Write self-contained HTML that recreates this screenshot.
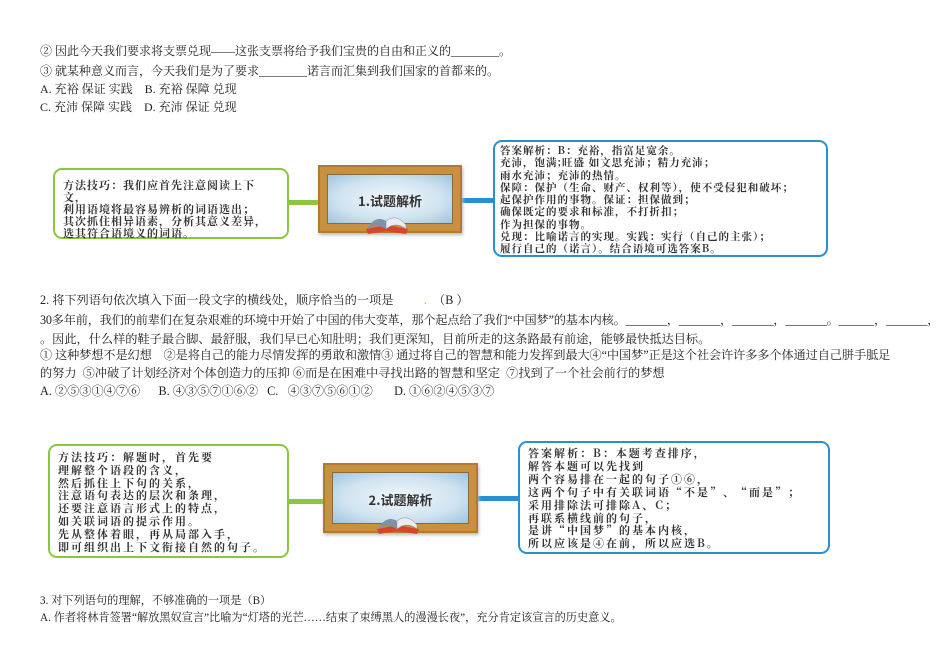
<!DOCTYPE html>
<html><head><meta charset="utf-8"><style>
body{margin:0;width:950px;height:672px;background:#fff;position:relative;overflow:hidden;font-family:"Liberation Serif","Noto Serif CJK SC","Noto Sans CJK SC",serif;color:#222}
.t{position:absolute;left:40px;font-size:11.5px;white-space:nowrap;line-height:14px}
.box{position:absolute;background:#fff;border-radius:9px;font-family:"Noto Serif CJK SC","Liberation Serif",serif;font-weight:bold;color:#333;white-space:nowrap}
.g{border:2.5px solid #8cc63f}
.b{border:2.5px solid #2a8fd0}
.board{position:absolute;background:#c8913f;border:2px solid #b07a30;box-shadow:1px 2px 3px #bbb}
.board .in{position:absolute;left:7px;top:7px;right:7px;bottom:7px;background:radial-gradient(ellipse at center,#f2f8fc 0%,#cfe3f0 60%,#9ec4dd 100%);border:1px solid #8a6a3a}
.board .lbl{position:absolute;left:0;right:0;text-align:center;font-family:"Noto Sans CJK SC",sans-serif;font-weight:bold;color:#333;font-size:13px}
.line{position:absolute;height:5px}
</style></head><body>
<div class="t" style="top:44px;font-size:12px">② 因此今天我们要求将支票兑现——这张支票将给予我们宝贵的自由和正义的________。</div>
<div class="t" style="top:64px;font-size:12px">③ 就某种意义而言，今天我们是为了要求________诺言而汇集到我们国家的首都来的。</div>
<div class="t" style="top:82px;font-size:12px">A. 充裕 保证 实践&nbsp;&nbsp;&nbsp; B. 充裕 保障 兑现</div>
<div class="t" style="top:100px;font-size:12px">C. 充沛 保障 实践&nbsp;&nbsp;&nbsp; D. 充沛 保证 兑现</div>

<div class="line" style="left:282px;top:200px;width:38px;background:#8cc63f"></div>
<div class="line" style="left:462px;top:198px;width:33px;background:#2a8fd0"></div>
<div class="box g" style="left:53px;top:168px;width:224px;height:67px;font-size:11px;letter-spacing:1px;line-height:12px;padding:0 0 0 8px"><div style="padding-top:9px">方法技巧：我们应首先注意阅读上下<br>文，<br>利用语境将最容易辨析的词语选出；<br>其次抓住相异语素，分析其意义差异，<br>选其符合语境义的词语。</div></div>
<div class="board" style="left:318px;top:165px;width:140px;height:64px"><div class="in"></div><div class="lbl" style="top:24px">1.试题解析</div>
<svg style="position:absolute;left:42px;top:40px" width="50" height="30"><path d="M4 22 L24 18 L46 22 L44 27 L24 24 L6 27Z" fill="#d9452a"/><path d="M6 20 Q14 8 24 14 L24 22 Q14 16 6 22Z" fill="#7a93a6"/><path d="M24 14 Q34 6 44 18 L44 22 Q34 14 24 22Z" fill="#e8eef2" stroke="#889" stroke-width=".5"/></svg></div>
<div class="box b" style="left:493px;top:140px;width:326px;height:113px;font-size:10.5px;letter-spacing:1px;line-height:12.3px;padding:0 0 0 5px"><div style="padding-top:3px">答案解析：B：充裕，指富足宽余。<br>充沛，饱满;旺盛 如文思充沛；精力充沛；<br>雨水充沛；充沛的热情。<br>保障：保护（生命、财产、权利等），使不受侵犯和破坏；<br>起保护作用的事物。保证：担保做到；<br>确保既定的要求和标准，不打折扣；<br>作为担保的事物。<br>兑现：比喻诺言的实现。实践：实行（自己的主张）；<br>履行自己的（诺言）。结合语境可选答案B。</div></div>

<div class="t" style="top:293px;font-size:12.2px">2. 将下列语句依次填入下面一段文字的横线处，顺序恰当的一项是&nbsp;&nbsp;&nbsp;&nbsp;&nbsp;&nbsp;&nbsp;&nbsp;&nbsp;&nbsp;<span style="color:#e0a000">.</span>&nbsp;&nbsp;（B ）</div>
<div class="t" style="top:313px;font-size:12.2px;letter-spacing:-0.2px">30多年前，我们的前辈们在复杂艰难的环境中开始了中国的伟大变革，那个起点给了我们“中国梦”的基本内核。_______，_______，_______，_______。______，_______，</div>
<div class="t" style="top:332px;font-size:12.2px">。因此，什么样的鞋子最合脚、最舒服，我们早已心知肚明；我们更深知，目前所走的这条路最有前途，能够最快抵达目标。</div>
<div class="t" style="top:348px;font-size:12.2px;letter-spacing:-0.1px">① 这种梦想不是幻想&nbsp;&nbsp;&nbsp;&nbsp;②是将自己的能力尽情发挥的勇敢和激情③ 通过将自己的智慧和能力发挥到最大④“中国梦”正是这个社会许许多多个体通过自己胼手胝足</div>
<div class="t" style="top:366px;font-size:12.2px">的努力&nbsp;&nbsp;⑤冲破了计划经济对个体创造力的压抑 ⑥而是在困难中寻找出路的智慧和坚定&nbsp;&nbsp;⑦找到了一个社会前行的梦想</div>
<div class="t" style="top:384px;font-size:12.2px">A. ②⑤③①④⑦⑥&nbsp;&nbsp;&nbsp;&nbsp;&nbsp; B. ④③⑤⑦①⑥②&nbsp;&nbsp; C.&nbsp;&nbsp; ④③⑦⑤⑥①②&nbsp;&nbsp;&nbsp;&nbsp;&nbsp;&nbsp; D. ①⑥②④⑤③⑦</div>

<div class="line" style="left:285px;top:499px;width:40px;background:#8cc63f"></div>
<div class="line" style="left:478px;top:496px;width:42px;background:#2a8fd0"></div>
<div class="box g" style="left:48px;top:444px;width:229px;height:110px;font-size:11px;letter-spacing:2px;line-height:12.8px;padding:0 0 0 8px"><div style="padding-top:5px">方法技巧：解题时，首先要<br>理解整个语段的含义，<br>然后抓住上下句的关系，<br>注意语句表达的层次和条理，<br>还要注意语言形式上的特点，<br>如关联词语的提示作用。<br>先从整体着眼，再从局部入手，<br>即可组织出上下文衔接自然的句子。</div></div>
<div class="board" style="left:323px;top:463px;width:151px;height:66px"><div class="in"></div><div class="lbl" style="top:25px">2.试题解析</div>
<svg style="position:absolute;left:48px;top:42px" width="50" height="30"><path d="M4 22 L24 18 L46 22 L44 27 L24 24 L6 27Z" fill="#d9452a"/><path d="M6 20 Q14 8 24 14 L24 22 Q14 16 6 22Z" fill="#7a93a6"/><path d="M24 14 Q34 6 44 18 L44 22 Q34 14 24 22Z" fill="#e8eef2" stroke="#889" stroke-width=".5"/></svg></div>
<div class="box b" style="left:518px;top:441px;width:300px;height:109px;font-size:11px;letter-spacing:2px;line-height:12.9px;padding:0 0 0 8px"><div style="padding-top:4px">答案解析：B：本题考查排序，<br>解答本题可以先找到<br>两个容易排在一起的句子①⑥，<br>这两个句子中有关联词语“不是”、“而是”；<br>采用排除法可排除A、C；<br>再联系横线前的句子，<br>是讲“中国梦”的基本内核，<br>所以应该是④在前，所以应选B。</div></div>

<div class="t" style="top:594px;font-size:11.2px">3. 对下列语句的理解，不够准确的一项是（B）</div>
<div class="t" style="top:611px;font-size:11.2px">A. 作者将林肯签署“解放黑奴宣言”比喻为“灯塔的光芒……结束了束缚黑人的漫漫长夜”，充分肯定该宣言的历史意义。</div>
</body></html>
